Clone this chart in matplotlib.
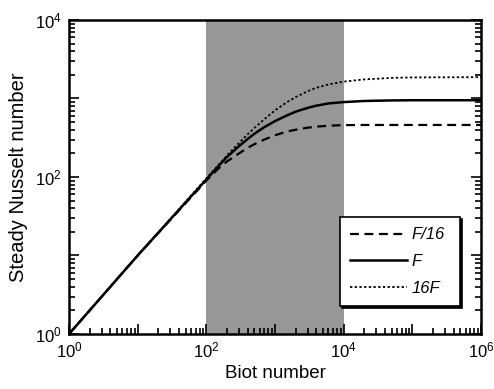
import numpy as np
import matplotlib
matplotlib.use("Agg")
import matplotlib.pyplot as plt
from matplotlib.ticker import LogLocator, FuncFormatter, NullFormatter

plt.rcParams['font.family'] = ['Liberation Sans', 'DejaVu Sans']
plt.rcParams['mathtext.default'] = 'regular'

# Biot number grid and steady Nusselt number for the three F values
biot = [1, 10, 100, 150, 200, 300, 400, 500, 700, 1000, 1500, 2000,
        3000, 4000, 6000, 1e4, 2e4, 5e4, 1e5, 1e6]
nu_f16 = [1, 10, 90, 128, 158, 200, 235, 262, 300, 340, 380, 400,
          425, 438, 450, 458, 460, 460, 460, 460]
nu_f = [1, 10, 93, 138, 180, 248, 305, 355, 432, 515, 610, 680,
        760, 810, 865, 900, 930, 945, 950, 950]
nu_16f = [1, 10, 96, 142, 188, 272, 350, 420, 545, 705, 900, 1040,
          1240, 1370, 1510, 1640, 1750, 1830, 1855, 1870]
labels = ["F/16", "F", "16F"]
shade_range = (1e2, 1e4)

fig = plt.figure(figsize=(4.94, 3.89), dpi=100)
ax = fig.add_axes([0.1397, 0.1414, 0.8340, 0.8072])

ax.axvspan(*shade_range, facecolor='#979797', edgecolor='none', zorder=0)

ax.plot(biot, nu_f16, color='black', lw=1.6, ls=(0, (4, 2.5)), label=labels[0])
ax.plot(biot, nu_f, color='black', lw=1.8, ls='-', label=labels[1])
ax.plot(biot, nu_16f, color='black', lw=1.3, ls=(0, (1.3, 1.3)), label=labels[2])

ax.set_xscale('log')
ax.set_yscale('log')
ax.set_xlim(1, 1e6)
ax.set_ylim(1, 1e4)


def even_decades(v, pos):
    e = int(round(np.log10(v)))
    return r'$10^{%d}$' % e if e % 2 == 0 else ''


for axis in (ax.xaxis, ax.yaxis):
    axis.set_major_locator(LogLocator(base=10, numticks=20))
    axis.set_minor_locator(LogLocator(base=10, subs=np.arange(2, 10), numticks=20))
    axis.set_major_formatter(FuncFormatter(even_decades))
    axis.set_minor_formatter(NullFormatter())

ax.tick_params(which='both', direction='in', top=False, right=True,
               labelsize=12, width=1.2, pad=5)
ax.tick_params(which='major', length=7)
ax.tick_params(which='minor', length=4)
for s in ax.spines.values():
    s.set_linewidth(1.8)

ax.set_xlabel("Biot number", fontsize=13.5, labelpad=3)
ax.set_ylabel("Steady Nusselt number", fontsize=14.5, labelpad=5)

leg = ax.legend(loc='lower left', bbox_to_anchor=(0.658, 0.09, 0.291, 0.274),
                mode='expand', fancybox=False,
                shadow={'color': 'black', 'alpha': 1, 'ox': 1.5, 'oy': -1.5},
                framealpha=1, edgecolor='black', handlelength=3.4,
                prop={'style': 'italic', 'size': 12}, borderaxespad=0,
                labelspacing=0.7, handletextpad=0.3, borderpad=0.6)
leg.get_frame().set_linewidth(1.2)

fig.savefig("out.png", dpi=100)
